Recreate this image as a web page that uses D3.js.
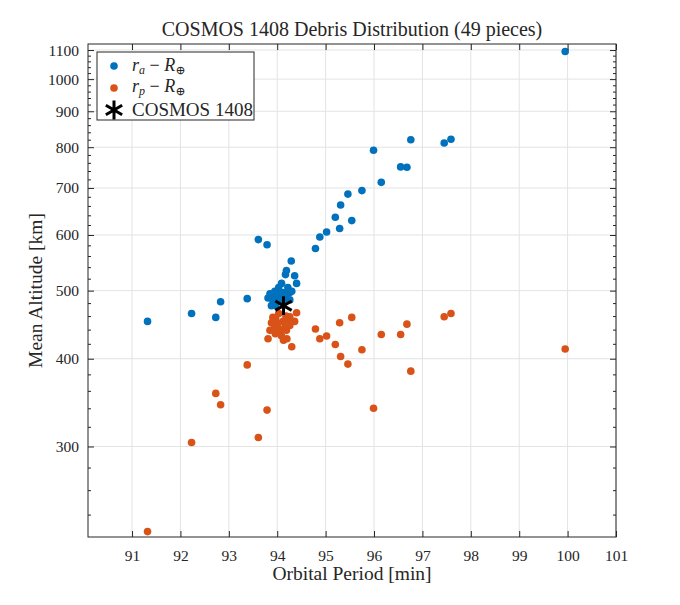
<!DOCTYPE html>
<html>
<head>
<meta charset="utf-8">
<script src="https://cdn.jsdelivr.net/npm/d3@7"></script>
<style>
  body { margin: 0; background: #fff; }
  text { font-family: "Liberation Serif", "DejaVu Serif", serif; fill: #262626; }
</style>
</head>
<body>
<svg id="chart" width="680" height="605"></svg>
<script>
// orbital period of each piece [min]
var periods = [
  91.32, 92.23, 92.73, 92.83, 93.38, 93.61, 93.79,
  93.81, 93.85, 93.88, 93.91, 93.95, 93.96, 93.97, 94.01, 94.03, 94.05,
  94.07, 94.09, 94.12, 94.13, 94.17, 94.18, 94.19, 94.20, 94.22, 94.26,
  94.26, 94.29, 94.30, 94.36, 94.40,
  94.79, 94.88, 95.02, 95.20, 95.29, 95.31, 95.46, 95.54, 95.75, 95.99,
  96.15, 96.55, 96.68, 96.76, 97.45, 97.59, 99.95
];
// apogee altitude r_a - R_earth [km]
var apogees = [
  452, 464, 458, 482, 487, 591, 581,
  488, 495, 476, 485, 499, 490, 476, 485, 505, 491,
  496, 512, 497, 485, 527, 491, 534, 495, 505, 497,
  485, 551, 499, 525, 512,
  574, 596, 606, 636, 613, 662, 686, 629, 694, 792,
  713, 750, 749, 820, 811, 821, 1095
];
// perigee altitude r_p - R_earth [km]
var perigees = [
  227, 304, 357, 344, 392, 309, 338,
  427, 439, 450, 458, 444, 434, 456, 449, 464, 441,
  437, 431, 452, 425, 444, 460, 439, 427, 455, 459,
  446, 452, 416, 452, 465,
  441, 427, 431, 419, 450, 403, 393, 458, 412, 340,
  433, 433, 448, 384, 459, 464, 413
];
var parent = { period: 94.13, altitude: 476 };

var xTicks = [91, 92, 93, 94, 95, 96, 97, 98, 99, 100, 101];
var yTicks = [300, 400, 500, 600, 700, 800, 900, 1000, 1100];
var yMinorTicks = [240, 260, 280, 320, 340, 360, 380, 420, 440, 460, 480,
  520, 540, 560, 580, 620, 640, 660, 680, 720, 740, 760, 780, 820, 840, 860, 880,
  920, 940, 960, 980, 1020, 1040, 1060, 1080];

var blue = '#0072BD', orange = '#D95319', axisColor = '#262626';

var svg = d3.select('#chart');
var margin = { left: 88, right: 64, top: 44, bottom: 68 };
var width = 680 - margin.left - margin.right;
var height = 605 - margin.top - margin.bottom;

var x = d3.scaleLinear().domain([90.09, 101]).range([0, width]);
var y = d3.scaleLog().domain([223, 1122]).range([height, 0]);

var g = svg.append('g').attr('transform', 'translate(' + margin.left + ',' + margin.top + ')');

// grid
g.selectAll('.gx').data(xTicks).enter().append('line')
  .attr('x1', function(d) { return x(d); }).attr('x2', function(d) { return x(d); })
  .attr('y1', 0).attr('y2', height)
  .attr('stroke', '#e3e3e3').attr('stroke-width', 1);
g.selectAll('.gy').data(yTicks).enter().append('line')
  .attr('y1', function(d) { return y(d); }).attr('y2', function(d) { return y(d); })
  .attr('x1', 0).attr('x2', width)
  .attr('stroke', '#e3e3e3').attr('stroke-width', 1);

// points
var pieces = periods.map(function(p, i) { return { p: p, ra: apogees[i], rp: perigees[i] }; });
g.selectAll('.ra').data(pieces).enter().append('circle')
  .attr('cx', function(d) { return x(d.p); }).attr('cy', function(d) { return y(d.ra); })
  .attr('r', 3.8).attr('fill', blue);
g.selectAll('.rp').data(pieces).enter().append('circle')
  .attr('cx', function(d) { return x(d.p); }).attr('cy', function(d) { return y(d.rp); })
  .attr('r', 3.8).attr('fill', orange);

var star = d3.symbol().type(d3.symbolAsterisk).size(250);
g.append('path').attr('d', star())
  .attr('transform', 'translate(' + x(parent.period) + ',' + y(parent.altitude) + ')')
  .attr('fill', 'none').attr('stroke', '#000').attr('stroke-width', 3);

// axes (ticks inward, mirrored on top/right)
function styleAxis(sel) {
  sel.select('.domain').remove();
  sel.selectAll('line').attr('stroke', axisColor);
  sel.selectAll('text').attr('font-size', 15.5).style('font-family', '"Liberation Serif", serif').attr('fill', axisColor);
}
g.append('g').attr('transform', 'translate(0,' + height + ')')
  .call(d3.axisBottom(x).tickValues(xTicks).tickSize(-6).tickPadding(13).tickFormat(d3.format('d')))
  .call(styleAxis);
g.append('g')
  .call(d3.axisTop(x).tickValues(xTicks).tickSize(-6).tickFormat(''))
  .call(styleAxis);
g.append('g')
  .call(d3.axisLeft(y).tickValues(yTicks).tickSize(-6).tickPadding(9).tickFormat(d3.format('d')))
  .call(styleAxis);
g.append('g')
  .call(d3.axisLeft(y).tickValues(yMinorTicks).tickSize(-3).tickFormat(''))
  .call(styleAxis);
g.append('g').attr('transform', 'translate(' + width + ',0)')
  .call(d3.axisRight(y).tickValues(yTicks).tickSize(-6).tickFormat(''))
  .call(styleAxis);
g.append('g').attr('transform', 'translate(' + width + ',0)')
  .call(d3.axisRight(y).tickValues(yMinorTicks).tickSize(-3).tickFormat(''))
  .call(styleAxis);
g.append('rect').attr('width', width).attr('height', height)
  .attr('fill', 'none').attr('stroke', axisColor).attr('stroke-width', 1);

// labels
svg.append('text').attr('x', margin.left + width / 2).attr('y', 36)
  .attr('text-anchor', 'middle').attr('font-size', 20)
  .text('COSMOS 1408 Debris Distribution (49 pieces)');
svg.append('text').attr('x', margin.left + width / 2).attr('y', 580)
  .attr('text-anchor', 'middle').attr('font-size', 19.5)
  .text('Orbital Period [min]');
svg.append('text').attr('transform', 'translate(42,' + (margin.top + height / 2) + ') rotate(-90)')
  .attr('text-anchor', 'middle').attr('font-size', 19.5)
  .text('Mean Altitude [km]');

// legend
var lg = svg.append('g').attr('transform', 'translate(97,52)');
lg.append('rect').attr('width', 157).attr('height', 68)
  .attr('fill', '#fff').attr('stroke', axisColor).attr('stroke-width', 1);
function mathLabel(sel, sub) {
  sel.append('tspan').attr('font-style', 'italic').text('r');
  sel.append('tspan').attr('font-style', 'italic').attr('font-size', 12).attr('dy', 3).text(sub);
  sel.append('tspan').attr('dy', -3).text(' \u2212 ');
  sel.append('tspan').attr('font-style', 'italic').text('R');
  sel.append('tspan').attr('font-size', 12).attr('dy', 3).text('\u2295');
}
lg.append('circle').attr('cx', 17).attr('cy', 14).attr('r', 3.8).attr('fill', blue);
lg.append('text').attr('x', 35).attr('y', 19).attr('font-size', 18).call(mathLabel, 'a');
lg.append('circle').attr('cx', 17).attr('cy', 36).attr('r', 3.8).attr('fill', orange);
lg.append('text').attr('x', 35).attr('y', 40).attr('font-size', 18).call(mathLabel, 'p');
lg.append('path').attr('d', star())
  .attr('transform', 'translate(17,58)')
  .attr('fill', 'none').attr('stroke', '#000').attr('stroke-width', 3);
lg.append('text').attr('x', 35).attr('y', 64).attr('font-size', 19).text('COSMOS 1408');
</script>
</body>
</html>
